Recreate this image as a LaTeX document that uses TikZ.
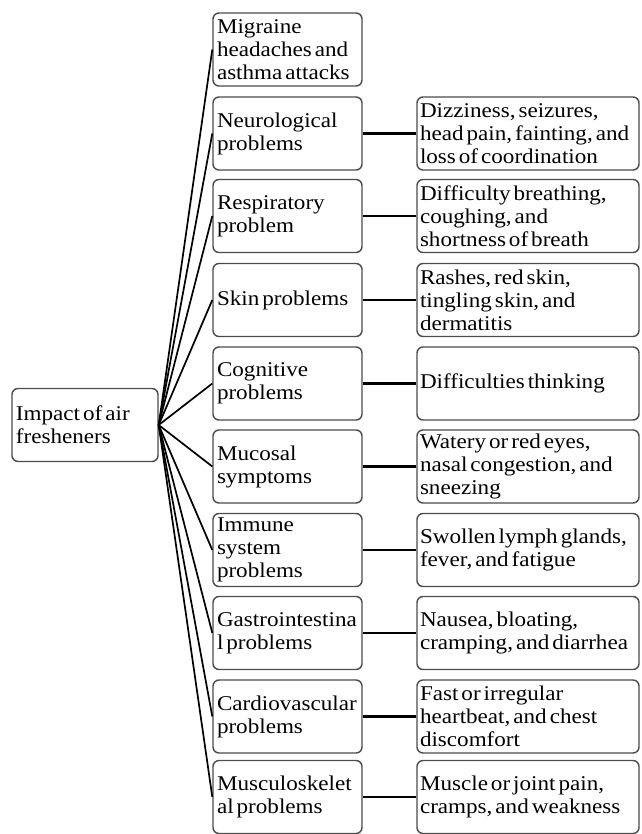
\documentclass[tikz,border=0pt]{standalone}
\usepackage{fontspec}
\setmainfont{Liberation Serif}[FakeStretch=1.1]
\usepackage{tikz}
\def\mx{287.5}
\def\fx{528}
\newcommand\boxfont{\fontsize{21}{23}\selectfont\spaceskip=3pt plus 1pt minus 0.5pt\relax}

\tikzset{
  box/.style={draw=black!70, line width=1.4pt, rounded corners=6pt, fill=white,
    minimum height=73pt, inner xsep=4pt, inner ysep=0pt, align=flush left,
    font=\boxfont},
  midbox/.style={box, text width=141pt},
  fxbox/.style={box, text width=216pt, inner xsep=3pt},
  fan/.style={line width=1.7pt},
  link/.style={line width=2.6pt}
}

\begin{document}
\begin{tikzpicture}[x=1pt, y=-1pt]
            \useasboundingbox (0,0) rectangle (641,834);

            \node[box, text width=138pt] (imp) at (85, 425) {Impact of air\\fresheners};

            \node[midbox] (m1) at (\mx, 49.5) {Migraine\\headaches and\\asthma attacks};
            \node[midbox] (m2) at (\mx, 133.5) {Neurological\\problems};
            \node[midbox] (m3) at (\mx, 216) {Respiratory\\problem};
            \node[midbox] (m4) at (\mx, 300) {Skin problems};
            \node[midbox] (m5) at (\mx, 383.5) {Cognitive\\problems};
            \node[midbox] (m6) at (\mx, 466.5) {Mucosal\\symptoms};
            \node[midbox] (m7) at (\mx, 550) {Immune\\system\\problems};
            \node[midbox] (m8) at (\mx, 633) {Gastrointestina\\l problems};
            \node[midbox] (m9) at (\mx, 716.5) {Cardiovascular\\problems};
            \node[midbox] (m10) at (\mx, 797) {Musculoskelet\\al problems};

            \node[fxbox] (e2) at (\fx, 133.5) {Dizziness, seizures,\\head pain, fainting, and\\loss of coordination};
            \node[fxbox] (e3) at (\fx, 216) {Difficulty breathing,\\coughing, and\\shortness of breath};
            \node[fxbox] (e4) at (\fx, 300) {Rashes, red skin,\\tingling skin, and\\dermatitis};
            \node[fxbox] (e5) at (\fx, 383.5) {Difficulties thinking};
            \node[fxbox] (e6) at (\fx, 466.5) {Watery or red eyes,\\nasal congestion, and\\sneezing};
            \node[fxbox] (e7) at (\fx, 550) {Swollen lymph glands,\\fever, and fatigue};
            \node[fxbox] (e8) at (\fx, 633) {Nausea, bloating,\\cramping, and diarrhea};
            \node[fxbox] (e9) at (\fx, 716.5) {Fast or irregular\\heartbeat, and chest\\discomfort};
            \node[fxbox] (e10) at (\fx, 797) {Muscle or joint pain,\\cramps, and weakness};

            % fan out from the root
            \draw[fan] (imp.east) -- (m1.west);
            \draw[fan] (imp.east) -- (m2.west);
            \draw[fan] (imp.east) -- (m3.west);
            \draw[fan] (imp.east) -- (m4.west);
            \draw[fan] (imp.east) -- (m5.west);
            \draw[fan] (imp.east) -- (m6.west);
            \draw[fan] (imp.east) -- (m7.west);
            \draw[fan] (imp.east) -- (m8.west);
            \draw[fan] (imp.east) -- (m9.west);
            \draw[fan] (imp.east) -- (m10.west);

            % effects
            \draw[link] (m2) -- (e2);
            \draw[link] (m3) -- (e3);
            \draw[link] (m4) -- (e4);
            \draw[link] (m5) -- (e5);
            \draw[link] (m6) -- (e6);
            \draw[link] (m7) -- (e7);
            \draw[link] (m8) -- (e8);
            \draw[link] (m9) -- (e9);
            \draw[link] (m10) -- (e10);
        \end{tikzpicture}
\end{document}
